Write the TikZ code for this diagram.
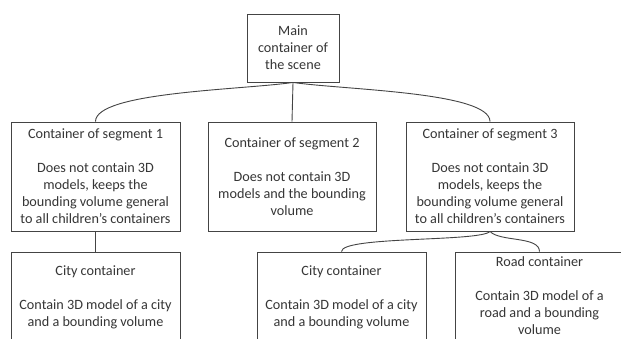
\documentclass[tikz,border=0pt]{standalone}
\usepackage{fontspec}
\setmainfont{Carlito}
\definecolor{ink}{HTML}{363636}
\definecolor{edge}{HTML}{444444}
\begin{document}
\begin{tikzpicture}[x=1pt,y=-1pt,
  box/.style={draw=edge,line width=0.9pt,fill=white,align=center,text=ink,
    inner sep=0pt,font=\fontsize{14.2}{17}\selectfont},
  link/.style={draw=edge,line width=0.9pt}]
\useasboundingbox (0,0) rectangle (621,338);
\fill[white] (0,0) rectangle (621,338);
\clip (0,0) rectangle (621,338);
\node[box,minimum width=92pt,minimum height=68pt] (main) at (293,48) {Main\\container of\\the scene};
\node[box,minimum width=169pt,minimum height=109pt] (seg1) at (95.5,176.5)
  {Container of segment 1\\[17pt]Does not contain 3D\\models, keeps the\\bounding volume general\\to all children's containers};
\node[box,minimum width=168pt,minimum height=109pt] (seg2) at (292,176.5)
  {Container of segment 2\\[17pt]Does not contain 3D\\models and the bounding\\volume};
\node[box,minimum width=168pt,minimum height=109pt] (seg3) at (490,176.5)
  {Container of segment 3\\[17pt]Does not contain 3D\\models, keeps the\\bounding volume general\\to all children's containers};
\node[box,minimum width=169pt,minimum height=91pt] (city1) at (95.5,297.5)
  {City container\\[17pt]Contain 3D model of a city\\and a bounding volume};
\node[box,minimum width=169pt,minimum height=91pt] (city2) at (341.5,297.5)
  {City container\\[17pt]Contain 3D model of a city\\and a bounding volume};
\node[box,minimum width=168pt,minimum height=88pt] (road) at (539.5,296)
  {Road container\\[17pt]Contain 3D model of a\\road and a bounding\\volume};
\draw[link] (main.south) -- (seg2.north);
\draw[link] (main.south) .. controls (240,90) and (95.5,92) .. (seg1.north);
\draw[link] (main.south) .. controls (346,90) and (490,92) .. (seg3.north);
\draw[link] (seg1.south) -- (city1.north);
\draw[link] (seg3.south) .. controls (480,242) and (341.5,236) .. (city2.north);
\draw[link] (seg3.south) .. controls (500,242) and (539.5,236) .. (road.north);
\end{tikzpicture}
\end{document}
